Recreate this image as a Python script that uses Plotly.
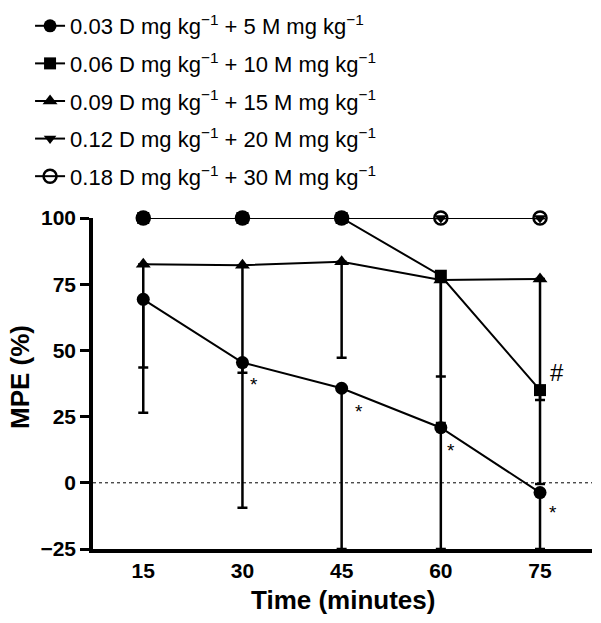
import plotly.graph_objects as go

time_min = [15, 30, 45, 60, 75]

labels = [
    "0.03 D mg kg<sup>\u22121</sup> + 5 M mg kg<sup>\u22121</sup>",
    "0.06 D mg kg<sup>\u22121</sup> + 10 M mg kg<sup>\u22121</sup>",
    "0.09 D mg kg<sup>\u22121</sup> + 15 M mg kg<sup>\u22121</sup>",
    "0.12 D mg kg<sup>\u22121</sup> + 20 M mg kg<sup>\u22121</sup>",
    "0.18 D mg kg<sup>\u22121</sup> + 30 M mg kg<sup>\u22121</sup>",
]

mpe_003 = [69.3, 45.4, 35.7, 20.8, -3.7]
sem_003 = [42.8, 54.8, 60.7, 45.8, 21.3]

mpe_006 = [100, 100, 100, 78.2, 35.0]
sem_006 = [0, 0, 0, 38.1, 3.7]

mpe_009 = [82.5, 82.2, 83.5, 76.6, 77.0]
sem_009 = [39.0, 40.6, 36.3, 54.0, 77.5]

mpe_012 = [100, 100, 100, 100, 100]
sem_012 = [0, 0, 0, 0, 0]

mpe_018 = [100, 100, 100, 100, 100]
sem_018 = [0, 0, 0, 0, 0]

star_x = [30, 45, 60, 75]
star_y = [45.4, 35.7, 20.8, -3.7]
hash_x = [75]
hash_y = [35.0]

series = [
    (mpe_003, sem_003, "circle", 13),
    (mpe_006, sem_006, "square", 12),
    (mpe_009, sem_009, "triangle-up", 13),
    (mpe_012, sem_012, "triangle-down", 11),
    (mpe_018, sem_018, "circle-open", 13),
]

fig = go.Figure()
for i, ((vals, sem, sym, sz), lab) in enumerate(zip(series, labels)):
    fig.add_trace(go.Scatter(
        x=time_min, y=vals, name=lab, mode="lines+markers",
        legendgroup=f"g{i}",
        line=dict(color="black", width=2),
        marker=dict(symbol=sym, size=sz, color="black",
                    line=dict(color="black", width=2.5 if sym == "circle-open" else 0)),
        error_y=dict(type="data", symmetric=False, array=[0] * len(vals),
                     arrayminus=sem, color="black", thickness=2.5, width=5),
        cliponaxis=False,
    ))

star_shift = [(12, -22), (17, -23), (10, -23), (13, -20)]
for (sx, sy), (dx, dy) in zip(zip(star_x, star_y), star_shift):
    fig.add_annotation(x=sx, y=sy, text="*", showarrow=False, xshift=dx, yshift=dy,
                       font=dict(family="Liberation Sans", size=19, color="black"))
for hx, hy in zip(hash_x, hash_y):
    fig.add_annotation(x=hx, y=hy, text="#", showarrow=False, xshift=17, yshift=18,
                       font=dict(family="Liberation Sans", size=24, color="black"))

fig.add_annotation(xref="paper", yref="paper", x=0.5, y=-0.154, text="Time (minutes)",
                   showarrow=False, xanchor="center", yanchor="middle",
                   font=dict(family="Liberation Sans", size=26, weight="bold", color="black"))
fig.add_annotation(xref="paper", yref="paper", x=-0.146, y=0.52, text="MPE (%)",
                   showarrow=False, xanchor="center", yanchor="middle", textangle=-90,
                   font=dict(family="Liberation Sans", size=26, weight="bold", color="black"))

fig.add_shape(type="line", xref="x domain", yref="y", x0=0, x1=1, y0=0, y1=0,
              line=dict(color="black", width=1, dash="dot"), layer="below")

fig.update_layout(
    width=601, height=623,
    margin=dict(l=93, r=9, t=218, b=74, autoexpand=False),
    plot_bgcolor="white", paper_bgcolor="white",
    font=dict(family="Liberation Sans", color="black"),
    showlegend=True,
    legend=dict(xref="container", yref="container", x=0.05, y=0.992,
                xanchor="left", yanchor="top",
                font=dict(family="Liberation Sans", size=22, color="black"),
                itemwidth=30, tracegroupgap=6, bgcolor="rgba(0,0,0,0)"),
    xaxis=dict(range=[7.4, 82.86], tickvals=time_min, ticks="", showgrid=False,
               zeroline=False, showline=True, linecolor="black", linewidth=3.5,
               tickfont=dict(family="Liberation Sans", size=21, weight="bold")),
    yaxis=dict(range=[-25, 100], tickvals=[-25, 0, 25, 50, 75, 100],
               ticktext=["\u221225", "0", "25", "50", "75", "100"],
               ticks="outside", ticklen=9, tickwidth=3, tickcolor="black",
               showgrid=False, zeroline=False, showline=True, linecolor="black",
               linewidth=3.5,
               tickfont=dict(family="Liberation Sans", size=21, weight="bold")),
)

fig.write_html("out.html", config={"displayModeBar": False},
               post_script="document.body.style.margin='0px';")
